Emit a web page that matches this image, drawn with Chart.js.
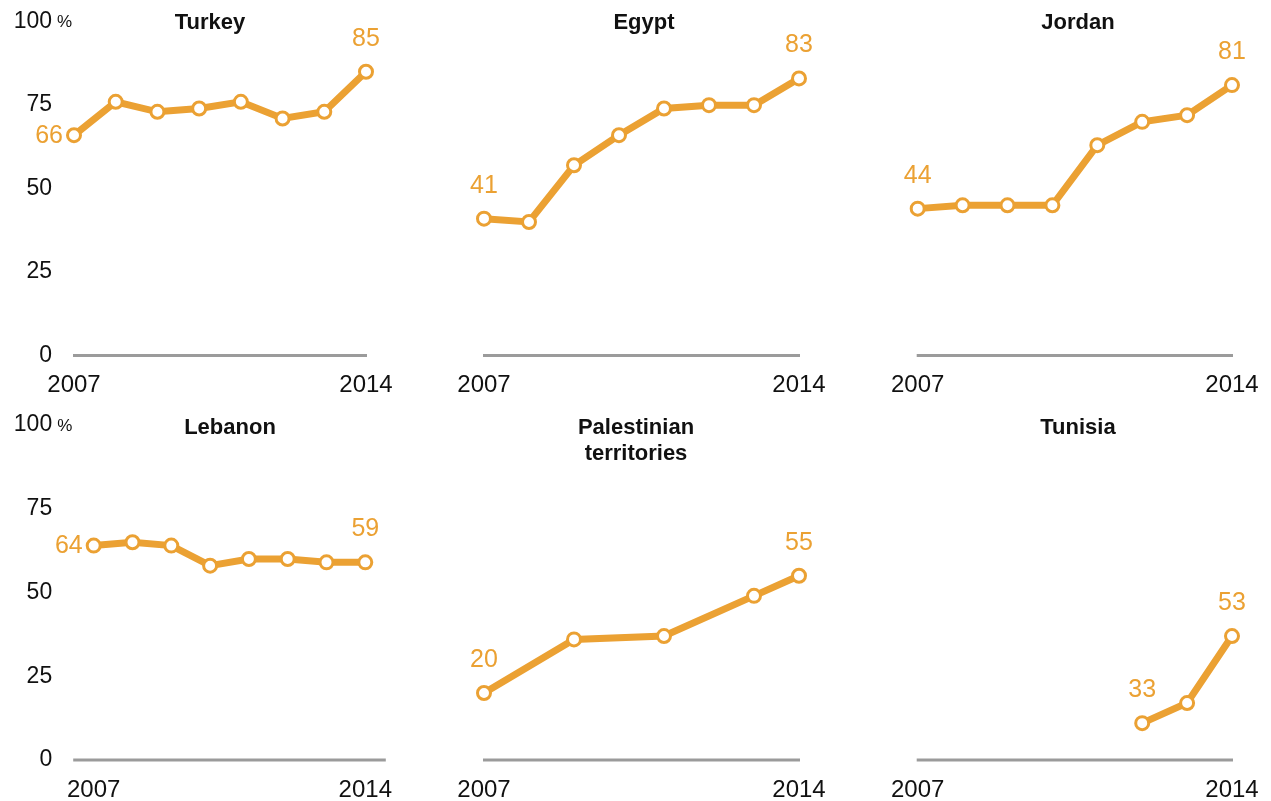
<!DOCTYPE html>
<html lang="en">
<head>
    <meta charset="UTF-8">
    <title>Small multiples 2007-2014</title>
    <style>
        body {
            margin: 0;
            width: 1271px;
            height: 801px;
            background: #ffffff;
            position: relative;
            overflow: hidden;
        }
        canvas {
            position: absolute;
        }
    </style>
</head>
<body>

<canvas id="c0"></canvas>
<canvas id="c1"></canvas>
<canvas id="c2"></canvas>
<canvas id="c3"></canvas>
<canvas id="c4"></canvas>
<canvas id="c5"></canvas>

<script src="https://cdn.jsdelivr.net/npm/chart.js"></script>
<script>
    // Daten
    const years = [2007, 2008, 2009, 2010, 2011, 2012, 2013, 2014];
    const yTicks = [0, 25, 50, 75, 100];

    const turkey = [66, 76, 73, 74, 76, 71, 73, 85];
    const egypt = [41, 40, 57, 66, 74, 75, 75, 83];
    const jordan = [44, 45, 45, 45, 63, 70, 72, 81];
    const lebanon = [64, 65, 64, 58, 60, 60, 59, 59];
    const palestinian = [20, null, 36, null, 37, null, 49, 55];
    const tunisia = [null, null, null, null, null, 11, 17, 37];

    const titles = ['Turkey', 'Egypt', 'Jordan', 'Lebanon', ['Palestinian', 'territories'], 'Tunisia'];
    const firstLabels = ['66', '41', '44', '64', '20', '33'];
    const lastLabels = ['85', '83', '81', '59', '55', '53'];

    const ORANGE = '#eba133';
    const FONT = '"Liberation Sans", Arial, sans-serif';

    // Layout der Panels (Seitenkoordinaten)
    const panels = [
        { id: 'c0', data: turkey, box: [0, 0, 420, 400], area: [74, 366, 21.7, 355.5], axisExt: 1, ticks: true, firstLeft: true, titleX: 210, titleY: 23 },
        { id: 'c1', data: egypt, box: [420, 0, 430, 400], area: [484, 799, 21.7, 355.5], axisExt: 1, ticks: false, firstLeft: false, titleX: 644, titleY: 23 },
        { id: 'c2', data: jordan, box: [850, 0, 421, 400], area: [917.7, 1232, 21.7, 355.5], axisExt: 1, ticks: false, firstLeft: false, titleX: 1078, titleY: 23 },
        { id: 'c3', data: lebanon, box: [0, 400, 420, 401], area: [93.7, 365.3, 425, 760], axisExt: 20.5, ticks: true, firstLeft: true, titleX: 230, titleY: 428 },
        { id: 'c4', data: palestinian, box: [420, 400, 430, 401], area: [484, 799, 425, 760], axisExt: 1, ticks: false, firstLeft: false, titleX: 636, titleY: 428 },
        { id: 'c5', data: tunisia, box: [850, 400, 421, 401], area: [917.7, 1232, 425, 760], axisExt: 1, ticks: false, firstLeft: false, titleX: 1078, titleY: 428 }
    ];

    function firstIndex(arr) {
        return arr.findIndex(v => v !== null);
    }

    const decoPlugin = {
        id: 'deco',
        beforeDatasetsDraw(chart, args, opts) {
            const ctx = chart.ctx;
            const p = opts.panel;
            const i = opts.index;
            const xs = chart.scales.x;
            const ys = chart.scales.y;
            const ox = p.box[0], oy = p.box[1];
            const y0 = ys.getPixelForValue(0);
            const xStart = xs.getPixelForValue(0) - p.axisExt;
            const xEnd = xs.getPixelForValue(years.length - 1) + p.axisExt;

            ctx.save();
            // Grundlinie
            ctx.strokeStyle = '#9b9b9b';
            ctx.lineWidth = 3;
            ctx.beginPath();
            ctx.moveTo(xStart, y0);
            ctx.lineTo(xEnd, y0);
            ctx.stroke();

            // Jahre
            ctx.fillStyle = '#111';
            ctx.font = '24px ' + FONT;
            ctx.textAlign = 'center';
            ctx.textBaseline = 'middle';
            ctx.fillText(String(years[0]), xs.getPixelForValue(0), y0 + 30);
            ctx.fillText(String(years[years.length - 1]), xs.getPixelForValue(years.length - 1), y0 + 30);

            // y-Achse
            if (p.ticks) {
                ctx.font = '23px ' + FONT;
                ctx.textAlign = 'right';
                yTicks.forEach(t => {
                    ctx.fillText(String(t), xStart - 21, ys.getPixelForValue(t));
                });
                ctx.font = '17px ' + FONT;
                ctx.textAlign = 'left';
                ctx.fillText('%', xStart - 16, ys.getPixelForValue(100) + 1);
            }

            // Titel
            ctx.font = 'bold 22px ' + FONT;
            ctx.textAlign = 'center';
            const t = Array.isArray(titles[i]) ? titles[i] : [titles[i]];
            t.forEach((line, k) => {
                ctx.fillText(line, p.titleX - ox, p.titleY - oy + k * 26);
            });
            ctx.restore();
        },
        afterDatasetsDraw(chart, args, opts) {
            const ctx = chart.ctx;
            const p = opts.panel;
            const i = opts.index;
            const meta = chart.getDatasetMeta(0);
            const fi = firstIndex(p.data);
            const li = p.data.length - 1;
            const a = meta.data[fi];
            const b = meta.data[li];

            ctx.save();
            ctx.fillStyle = ORANGE;
            ctx.font = '25px ' + FONT;
            ctx.textBaseline = 'middle';
            if (p.firstLeft) {
                ctx.textAlign = 'right';
                ctx.fillText(firstLabels[i], a.x - 11, a.y + 1);
            } else {
                ctx.textAlign = 'center';
                ctx.fillText(firstLabels[i], a.x, a.y - 33);
            }
            ctx.textAlign = 'center';
            ctx.fillText(lastLabels[i], b.x, b.y - 33);
            ctx.restore();
        }
    };

    panels.forEach((p, i) => {
        const canvas = document.getElementById(p.id);
        const [bx, by, bw, bh] = p.box;
        canvas.width = bw;
        canvas.height = bh;
        canvas.style.left = bx + 'px';
        canvas.style.top = by + 'px';
        canvas.style.width = bw + 'px';
        canvas.style.height = bh + 'px';

        const [l, r, t, b] = p.area;

        new Chart(canvas.getContext('2d'), {
            type: 'line',
            data: {
                labels: years,
                datasets: [{
                    data: p.data,
                    borderColor: ORANGE,
                    borderWidth: 7,
                    pointRadius: 6.5,
                    pointBorderWidth: 3,
                    pointBackgroundColor: '#ffffff',
                    pointBorderColor: ORANGE,
                    spanGaps: true,
                    tension: 0,
                    clip: false
                }]
            },
            options: {
                responsive: false,
                animation: false,
                devicePixelRatio: 1,
                layout: {
                    padding: { left: l - bx, right: bx + bw - r, top: t - by, bottom: by + bh - b }
                },
                plugins: {
                    legend: { display: false },
                    tooltip: { enabled: false },
                    deco: { panel: p, index: i }
                },
                scales: {
                    x: { display: false, offset: false },
                    y: { display: false, min: 0, max: 100 }
                }
            },
            plugins: [decoPlugin]
        });
    });
</script>

</body>
</html>
